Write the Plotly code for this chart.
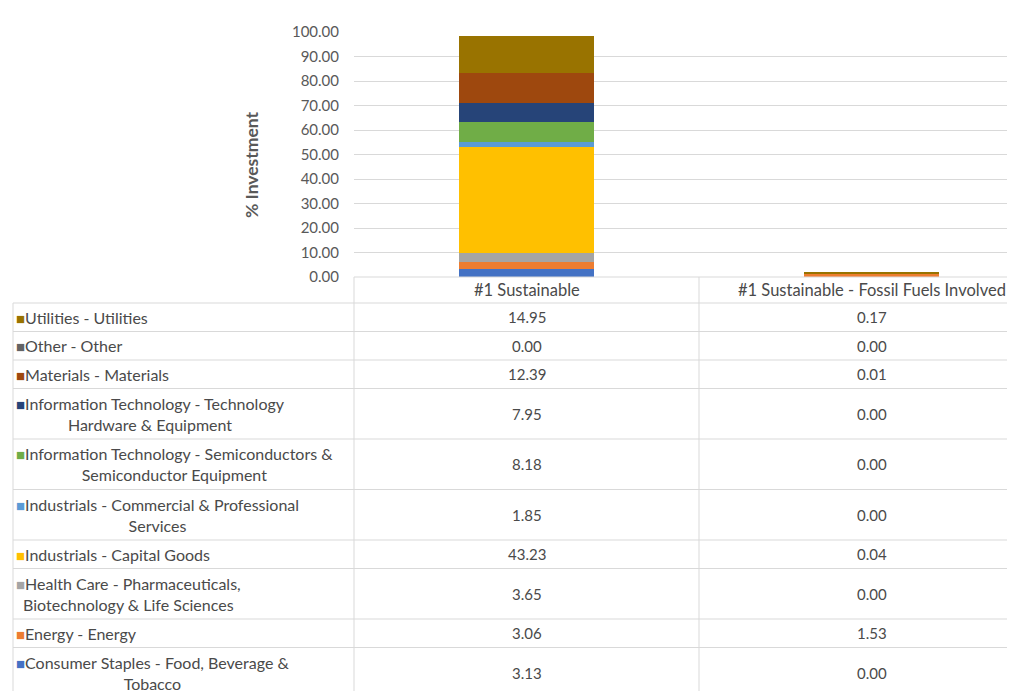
import plotly.graph_objects as go

categories = ["#1 Sustainable", "#1 Sustainable - Fossil Fuels Involved"]

# stack order, bottom to top
sectors = [
    "Consumer Staples - Food, Beverage &<br>Tobacco",
    "Energy - Energy",
    "Health Care - Pharmaceuticals,<br>Biotechnology & Life Sciences",
    "Industrials - Capital Goods",
    "Industrials - Commercial & Professional<br>Services",
    "Information Technology - Semiconductors &<br>Semiconductor Equipment",
    "Information Technology - Technology<br>Hardware & Equipment",
    "Materials - Materials",
    "Other - Other",
    "Utilities - Utilities",
]
sustainable = [3.13, 3.06, 3.65, 43.23, 1.85, 8.18, 7.95, 12.39, 0.00, 14.95]
fossil = [0.00, 1.53, 0.00, 0.04, 0.00, 0.00, 0.00, 0.01, 0.00, 0.17]
colors = ["#4472C4", "#ED7D31", "#A5A5A5", "#FFC000", "#5B9BD5",
          "#70AD47", "#264478", "#9E480E", "#636363", "#997300"]
y_ticks = [0, 10, 20, 30, 40, 50, 60, 70, 80, 90, 100]
y_title = "% Investment"

FONT = "Lato"
TXT = "#4a4a4a"
GRID = "#D9D9D9"

OFF = 8  # default page body margin
W, H = 1015, 691
L, T = 354 - OFF, 32 - OFF
PW, PH = W - L, 245
B = H - T - PH
CAT_PX = 345


def px2x(px):
    return (px - OFF - L) / PW


def py2y(py):
    return (T + PH - (py - OFF)) / PH


fig = go.Figure()
for name, s, f, c in zip(sectors, sustainable, fossil, colors):
    fig.add_trace(go.Bar(
        x=[0, 1], y=[s, f], name=name.replace("<br>", " "),
        marker=dict(color=c, line=dict(width=0)), width=0.39,
        showlegend=False,
    ))

shapes = []
annotations = []

col_lines_px = [354, 699]
row_top = 303
single_h, double_h = 28.5, 50.5
rows = list(zip(sectors, sustainable, fossil, colors))[::-1]


def hline(x0, y):
    shapes.append(dict(type="line", xref="paper", yref="paper",
                       x0=px2x(x0), x1=1.05, y0=py2y(y), y1=py2y(y),
                       line=dict(color=GRID, width=1)))


def vline(x, y0, y1):
    shapes.append(dict(type="line", xref="paper", yref="paper",
                       x0=px2x(x), x1=px2x(x), y0=py2y(y0), y1=py2y(y1),
                       line=dict(color=GRID, width=1)))


hline(354, 277)
hline(13, row_top)

for i, cat in enumerate(categories):
    annotations.append(dict(x=i, y=py2y(290), xref="x", yref="paper",
                            text=cat, showarrow=False,
                            font=dict(family=FONT, size=16.5, color=TXT),
                            xanchor="center", yanchor="middle"))

y_cur = row_top
for name, s, f, c in rows:
    h = double_h if "<br>" in name else single_h
    yc = y_cur + h / 2
    annotations.append(dict(
        x=px2x(14), y=py2y(yc), xref="paper", yref="paper",
        text=f"<span style='color:{c};font-size:15px'>■</span>{name}",
        showarrow=False, align="center", xanchor="left", yanchor="middle",
        font=dict(family=FONT, size=16, color=TXT)))
    for i, v in enumerate([s, f]):
        annotations.append(dict(
            x=i, y=py2y(yc), xref="x", yref="paper", text=f"{v:.2f}",
            showarrow=False, xanchor="center", yanchor="middle",
            font=dict(family=FONT, size=15, color=TXT)))
    y_cur += h
    hline(13, y_cur)

vline(13, row_top, H + 20)
for xp in col_lines_px:
    vline(xp, 277, H + 20)

annotations.append(dict(x=px2x(251), y=py2y(165), xref="paper", yref="paper",
                        text=f"<b>{y_title}</b>", textangle=-90, showarrow=False,
                        font=dict(family=FONT, size=17.5, color="#595959"),
                        xanchor="center", yanchor="middle"))

fig.update_layout(
    barmode="stack",
    width=W, height=H,
    margin=dict(l=L, r=0, t=T, b=B, pad=0),
    paper_bgcolor="white", plot_bgcolor="white",
    font=dict(family=FONT, size=15, color=TXT),
    xaxis=dict(range=[-0.5, -0.5 + PW / CAT_PX], showticklabels=False,
               showgrid=False, zeroline=False, showline=False, ticks=""),
    yaxis=dict(range=[0, 100], tickvals=y_ticks, tickformat=".2f",
               showgrid=True, gridcolor=GRID, gridwidth=1, zeroline=False,
               showline=False, ticks="", ticklabelstandoff=14,
               tickfont=dict(family=FONT, size=15, color="#595959")),
    shapes=shapes,
    annotations=annotations,
)

fig.write_html("out.html")
